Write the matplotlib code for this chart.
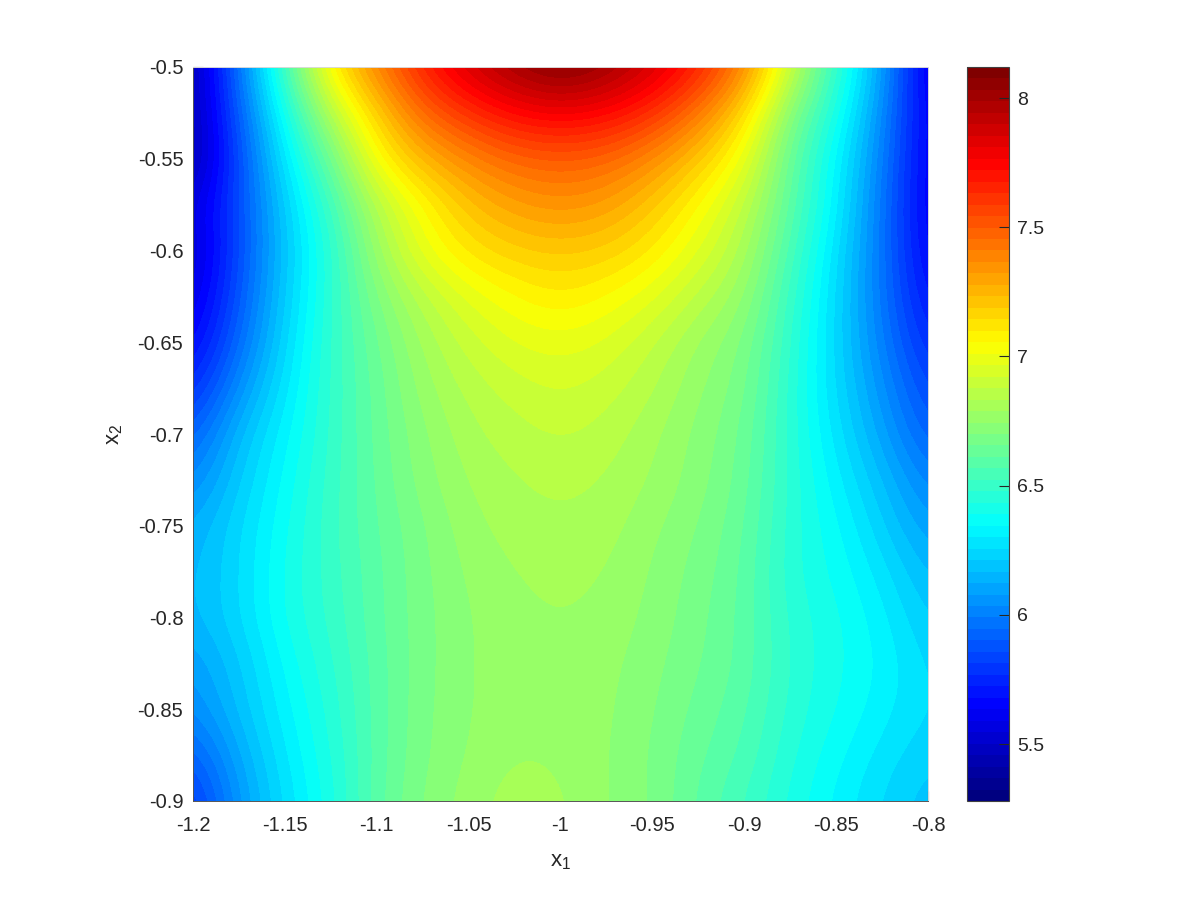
import numpy as np
import matplotlib
matplotlib.use('Agg')
import matplotlib.pyplot as plt
from matplotlib.colors import LinearSegmentedColormap

plt.rcParams['font.family'] = ['Liberation Sans', 'DejaVu Sans']
plt.rcParams['mathtext.fontset'] = 'custom'
plt.rcParams['mathtext.rm'] = 'Liberation Sans'
plt.rcParams['mathtext.default'] = 'rm'

# grid of the surface
x1 = [-1.2, -1.175, -1.15, -1.125, -1.1, -1.075, -1.05, -1.025, -1.0,
      -0.975, -0.95, -0.925, -0.9, -0.875, -0.85, -0.825, -0.8]
x2 = [-0.5, -0.525, -0.55, -0.575, -0.6, -0.625, -0.65, -0.675, -0.7,
      -0.725, -0.75, -0.775, -0.8, -0.825, -0.85, -0.875, -0.9]

row_050 = [5.42, 5.97, 6.55, 7.10, 7.40, 7.68, 7.88, 8.02, 8.12, 8.03, 7.88, 7.68, 7.40, 6.90, 6.50, 6.10, 5.55]
row_052 = [5.42, 5.90, 6.40, 6.85, 7.18, 7.47, 7.62, 7.74, 7.78, 7.74, 7.62, 7.42, 7.15, 6.70, 6.42, 6.03, 5.60]
row_055 = [5.40, 5.85, 6.30, 6.65, 7.05, 7.25, 7.38, 7.47, 7.50, 7.47, 7.36, 7.20, 7.00, 6.62, 6.34, 6.00, 5.60]
row_057 = [5.55, 5.85, 6.22, 6.52, 6.85, 7.05, 7.22, 7.31, 7.35, 7.31, 7.20, 7.05, 6.88, 6.60, 6.32, 5.97, 5.60]
row_060 = [5.50, 5.85, 6.20, 6.46, 6.78, 7.00, 7.12, 7.18, 7.20, 7.18, 7.10, 6.97, 6.82, 6.55, 6.27, 5.97, 5.62]
row_062 = [5.55, 5.88, 6.22, 6.47, 6.70, 6.86, 6.98, 7.05, 7.10, 7.05, 6.98, 6.86, 6.76, 6.50, 6.25, 5.97, 5.68]
row_065 = [5.63, 5.94, 6.25, 6.49, 6.65, 6.80, 6.90, 6.97, 6.99, 6.96, 6.88, 6.78, 6.70, 6.48, 6.24, 6.00, 5.75]
row_067 = [5.75, 6.05, 6.29, 6.49, 6.63, 6.77, 6.85, 6.90, 6.93, 6.90, 6.84, 6.75, 6.68, 6.46, 6.25, 6.05, 5.83]
row_070 = [5.90, 6.17, 6.33, 6.49, 6.63, 6.735, 6.82, 6.86, 6.885, 6.86, 6.80, 6.73, 6.65, 6.46, 6.28, 6.10, 5.90]
row_072 = [6.02, 6.21, 6.36, 6.50, 6.62, 6.725, 6.795, 6.83, 6.85, 6.83, 6.785, 6.72, 6.64, 6.46, 6.32, 6.17, 6.00]
row_075 = [6.12, 6.25, 6.38, 6.51, 6.61, 6.695, 6.775, 6.81, 6.825, 6.81, 6.755, 6.70, 6.62, 6.45, 6.36, 6.22, 6.08]
row_077 = [6.15, 6.25, 6.40, 6.50, 6.60, 6.69, 6.755, 6.79, 6.805, 6.79, 6.74, 6.68, 6.61, 6.44, 6.38, 6.28, 6.15]
row_080 = [6.15, 6.25, 6.40, 6.49, 6.60, 6.685, 6.745, 6.775, 6.79, 6.775, 6.73, 6.67, 6.60, 6.46, 6.40, 6.32, 6.20]
row_082 = [6.08, 6.20, 6.36, 6.47, 6.59, 6.685, 6.745, 6.77, 6.78, 6.76, 6.715, 6.66, 6.60, 6.47, 6.40, 6.34, 6.24]
row_085 = [6.03, 6.18, 6.33, 6.45, 6.59, 6.69, 6.745, 6.77, 6.775, 6.755, 6.705, 6.64, 6.58, 6.46, 6.39, 6.32, 6.25]
row_087 = [5.90, 6.12, 6.30, 6.43, 6.59, 6.695, 6.75, 6.79, 6.78, 6.75, 6.695, 6.62, 6.56, 6.44, 6.36, 6.28, 6.22]
row_090 = [5.78, 6.07, 6.27, 6.41, 6.60, 6.71, 6.765, 6.82, 6.80, 6.745, 6.70, 6.60, 6.52, 6.42, 6.33, 6.25, 6.18]

z = np.array([row_050, row_052, row_055, row_057, row_060, row_062, row_065, row_067, row_070,
              row_072, row_075, row_077, row_080, row_082, row_085, row_087, row_090])

xticks = [-1.2, -1.15, -1.1, -1.05, -1, -0.95, -0.9, -0.85, -0.8]
xticklabels = ['-1.2', '-1.15', '-1.1', '-1.05', '-1', '-0.95', '-0.9', '-0.85', '-0.8']
yticks = [-0.5, -0.55, -0.6, -0.65, -0.7, -0.75, -0.8, -0.85, -0.9]
yticklabels = ['-0.5', '-0.55', '-0.6', '-0.65', '-0.7', '-0.75', '-0.8', '-0.85', '-0.9']
cticks = [5.5, 6, 6.5, 7, 7.5, 8]
cticklabels = ['5.5', '6', '6.5', '7', '7.5', '8']
zmin, zmax = 5.28, 8.12

dark = '#262626'
# matlab's jet has its knots in other places than matplotlib's
cmap = LinearSegmentedColormap.from_list('matlab_jet', [
    (0, (0, 0, 0.5)), (0.125, (0, 0, 1)), (0.375, (0, 1, 1)),
    (0.625, (1, 1, 0)), (0.875, (1, 0, 0)), (1, (0.5, 0, 0))], N=64)

fig = plt.figure(figsize=(12, 9), dpi=100)
ax = fig.add_axes([193/1200, 1-801/900, 735/1200, 734/900])
cax = fig.add_axes([967/1200, 1-801/900, 42/1200, 734/900])

dx = (x1[1]-x1[0])/2
dy = (x2[0]-x2[1])/2
im = ax.imshow(z, cmap=cmap, vmin=zmin, vmax=zmax, aspect='auto', interpolation='bicubic',
               extent=[x1[0]-dx, x1[-1]+dx, x2[-1]-dy, x2[0]+dy], zorder=1)
ax.set_xlim(-1.2, -0.8)
ax.set_ylim(-0.9, -0.5)

ax.set_xticks(xticks)
ax.set_xticklabels(xticklabels, fontsize=14.5, color=dark)
ax.set_yticks(yticks)
ax.set_yticklabels(yticklabels, fontsize=14.5, color=dark, va='center_baseline')
ax.tick_params(axis='x', direction='in', length=0, width=0.8, color='#555555', pad=11)
ax.tick_params(axis='y', direction='in', length=0, width=0.8, color='#555555', pad=7)
# the other ticks are buried under the image, only these two show
ax.xaxis.get_major_ticks()[-1].tick1line.set_markersize(7)
ax.yaxis.get_major_ticks()[0].tick1line.set_markersize(7)
ax.set_xlabel('x$_1$', fontsize=16, color=dark, labelpad=11)
ax.set_ylabel('x$_2$', fontsize=16, color=dark, labelpad=9)

ax.spines['top'].set_color('#d9d9d9')
ax.spines['right'].set_color('#d9d9d9')
ax.spines['left'].set_color('#555555')
ax.spines['bottom'].set_color('#555555')
for s in ax.spines.values():
    s.set_linewidth(0.7)

cb = fig.colorbar(im, cax=cax)
cb.set_ticks(cticks)
cb.set_ticklabels(cticklabels)
cax.tick_params(direction='in', length=7, width=0.8, color=dark, labelsize=14, labelcolor=dark, pad=6)
cb.outline.set_edgecolor('#404040')
cb.outline.set_linewidth(0.8)

fig.savefig('out.png', dpi=100)
